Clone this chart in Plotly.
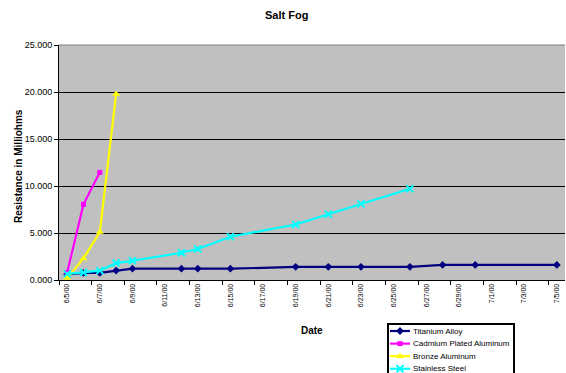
import pandas as pd
import plotly.graph_objects as go

W, H = 566, 373

# ---- data (resistance in milliohms, thousands) ----
ti_dates = ["2000-06-05", "2000-06-06", "2000-06-07", "2000-06-08", "2000-06-09",
            "2000-06-12", "2000-06-13", "2000-06-15", "2000-06-19", "2000-06-21",
            "2000-06-23", "2000-06-26", "2000-06-28", "2000-06-30", "2000-07-05"]
ti_vals = [0.6, 0.75, 0.75, 1.0, 1.2, 1.2, 1.2, 1.2, 1.4, 1.4, 1.4, 1.4, 1.6, 1.6, 1.6]

cd_dates = ["2000-06-05", "2000-06-06", "2000-06-07"]
cd_vals = [0.8, 8.05, 11.45]

br_dates = ["2000-06-05", "2000-06-06", "2000-06-07", "2000-06-08"]
br_vals = [0.2, 2.3, 5.1, 19.8]

ss_dates = ["2000-06-05", "2000-06-06", "2000-06-07", "2000-06-08", "2000-06-09",
            "2000-06-12", "2000-06-13", "2000-06-15", "2000-06-19", "2000-06-21",
            "2000-06-23", "2000-06-26"]
ss_vals = [0.65, 0.8, 1.0, 1.8, 2.05, 2.9, 3.3, 4.6, 5.9, 7.0, 8.1, 9.7]

tick_dates = ["2000-06-05", "2000-06-07", "2000-06-09", "2000-06-11", "2000-06-13",
              "2000-06-15", "2000-06-17", "2000-06-19", "2000-06-21", "2000-06-23",
              "2000-06-25", "2000-06-27", "2000-06-29", "2000-07-01", "2000-07-03",
              "2000-07-05"]
tick_labels = ["6/5/00", "6/7/00", "6/9/00", "6/11/00", "6/13/00", "6/15/00",
               "6/17/00", "6/19/00", "6/21/00", "6/23/00", "6/25/00", "6/27/00",
               "6/29/00", "7/1/00", "7/3/00", "7/5/00"]
y_ticks = [0, 5, 10, 15, 20, 25]

series = [
    dict(name="Titanium Alloy", x=ti_dates, y=ti_vals, color="#000080",
         marker=dict(symbol="diamond", size=6)),
    dict(name="Cadmium Plated Aluminum", x=cd_dates, y=cd_vals, color="#FF00FF",
         marker=dict(symbol="square", size=5)),
    dict(name="Bronze Aluminum", x=br_dates, y=br_vals, color="#FFFF00",
         marker=dict(symbol="triangle-up", size=7)),
    dict(name="Stainless Steel", x=ss_dates, y=ss_vals, color="#00FFFF",
         marker=dict(symbol="x-thin", size=7)),
]

FONT = "Arial, Liberation Sans, sans-serif"

# plot-area box in pixels
PX0, PX1, PY0, PY1 = 59, 565, 45, 280


def mk(s):
    m = dict(s["marker"], color=s["color"])
    if m["symbol"] == "x-thin":
        m["line"] = dict(color=s["color"], width=2)
    return m


fig = go.Figure()
for s in series:
    fig.add_trace(go.Scatter(
        x=s["x"], y=s["y"], mode="lines+markers", name=s["name"],
        line=dict(color=s["color"], width=2.2), marker=mk(s),
        showlegend=False, cliponaxis=False, xaxis="x", yaxis="y"))

# boxed key beneath the plot, drawn on its own small axis pair
LX0, LX1, LY0 = 388, 514, 324
row_y = [331 + i * 12.6 for i in range(len(series))]
for s, ry in zip(series, row_y):
    fig.add_trace(go.Scatter(
        x=[LX0 + 2, LX0 + 22], y=[ry, ry], mode="lines",
        line=dict(color=s["color"], width=2.2), showlegend=False,
        hoverinfo="skip", xaxis="x2", yaxis="y2", cliponaxis=False))
    fig.add_trace(go.Scatter(
        x=[LX0 + 12], y=[ry], mode="markers", marker=mk(s), showlegend=False,
        hoverinfo="skip", xaxis="x2", yaxis="y2", cliponaxis=False))
    fig.add_annotation(x=LX0 + 23, y=ry, xref="x2", yref="y2", text=s["name"],
                       showarrow=False, xanchor="left", yanchor="middle",
                       font=dict(family=FONT, size=8, color="black"))

minor_ticks = [d.strftime("%Y-%m-%d %H:%M") for d in
               pd.date_range("2000-06-04 12:00", "2000-07-04 12:00", freq="2D")]

fig.update_layout(
    width=W, height=H,
    margin=dict(l=0, r=0, t=0, b=0),
    paper_bgcolor="white",
    plot_bgcolor="rgba(0,0,0,0)",
    font=dict(family=FONT, color="black"),
    xaxis=dict(
        type="date",
        domain=[PX0 / W, PX1 / W],
        range=["2000-06-04 12:00", "2000-07-05 12:00"],
        tickmode="array", tickvals=tick_dates, ticktext=tick_labels,
        tickangle=-90, tickfont=dict(size=7, family=FONT, color="black"),
        ticks="", showgrid=False, zeroline=False,
        showline=True, linecolor="black", linewidth=1,
        minor=dict(tickmode="array", tickvals=minor_ticks, ticks="outside",
                   ticklen=4, tickcolor="black", tickwidth=1, showgrid=False),
        automargin=False, fixedrange=True,
    ),
    yaxis=dict(
        domain=[(H - PY1) / H, (H - PY0) / H],
        range=[0, 25],
        tickmode="array", tickvals=y_ticks, tickformat=".3f",
        tickfont=dict(size=9, family=FONT, color="black"),
        ticks="outside", ticklen=4, tickcolor="black",
        showgrid=True, gridcolor="black", gridwidth=1, zeroline=False,
        showline=True, linecolor="black", linewidth=1,
        automargin=False, fixedrange=True,
    ),
    xaxis2=dict(domain=[LX0 / W, LX1 / W], range=[LX0, LX1], visible=False,
                fixedrange=True, anchor="y2"),
    yaxis2=dict(domain=[0, (H - LY0) / H], range=[H, LY0], visible=False,
                fixedrange=True, anchor="x2"),
    shapes=[
        dict(type="rect", xref="x domain", yref="y domain", x0=0, x1=1, y0=0, y1=1,
             fillcolor="#C0C0C0", line=dict(width=0), layer="below"),
        dict(type="line", xref="x domain", yref="y domain", x0=0, x1=1, y0=1, y1=1,
             line=dict(color="#808080", width=1), layer="above"),
        dict(type="rect", xref="paper", yref="paper", x0=LX0 / W, x1=LX1 / W,
             y0=-0.1, y1=(H - LY0) / H, fillcolor="white",
             line=dict(color="black", width=2), layer="below"),
    ],
)

fig.add_annotation(x=286 / W, y=(H - 15) / H, xref="paper", yref="paper",
                   text="<b>Salt Fog</b>", showarrow=False,
                   xanchor="center", yanchor="middle",
                   font=dict(family=FONT, size=11, color="black"))
fig.add_annotation(x=18 / W, y=(H - 166) / H, xref="paper", yref="paper",
                   text="<b>Resistance in Milliohms</b>", showarrow=False,
                   textangle=-90, xanchor="center", yanchor="middle",
                   font=dict(family=FONT, size=10, color="black"))
fig.add_annotation(x=312 / W, y=(H - 330) / H, xref="paper", yref="paper",
                   text="<b>Date</b>", showarrow=False,
                   xanchor="center", yanchor="middle",
                   font=dict(family=FONT, size=10, color="black"))

fig.write_html("out.html")
